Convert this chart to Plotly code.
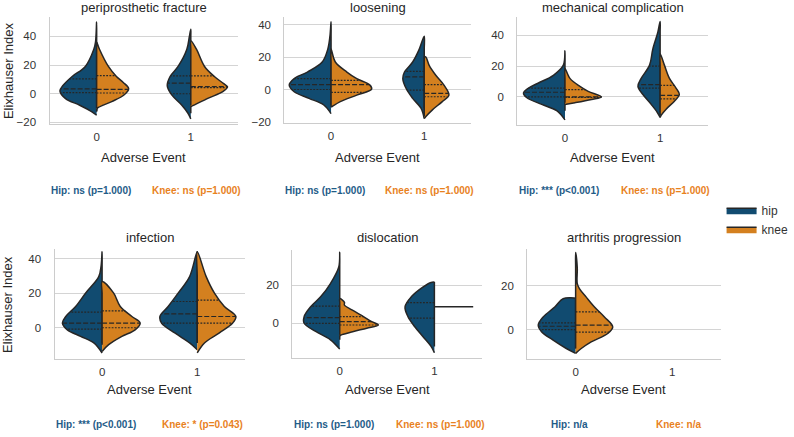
import numpy as np
import plotly.graph_objects as go

W, H = 794, 437
HIP_FILL = "#114b70"
KNEE_FILL = "#d4801f"
HIP_TXT = "#1f5c88"
KNEE_TXT = "#e8821e"
EDGE = "#262626"
GRID = "#d4d4d4"
FONT = "Liberation Sans, Arial, sans-serif"

panel_titles = ["periprosthetic fracture", "loosening", "mechanical complication",
                "infection", "dislocation", "arthritis progression"]
categories = [0, 1]
y_ranges = [[-20.8, 53.6], [-20.5, 45], [-18, 52], [-18, 45.5], [-18.2, 38.5], [-13.3, 36.5]]
y_ticks = [[-20, 0, 20, 40], [-20, 0, 20, 40], [0, 20, 40], [0, 20, 40], [0, 20], [0, 20]]
hip_labels = ["Hip: ns (p=1.000)", "Hip: ns (p=1.000)", "Hip: *** (p<0.001)",
              "Hip: *** (p<0.001)", "Hip: ns (p=1.000)", "Hip: n/a"]
knee_labels = ["Knee: ns (p=1.000)", "Knee: ns (p=1.000)", "Knee: ns (p=1.000)",
               "Knee: * (p=0.043)", "Knee: ns (p=1.000)", "Knee: n/a"]

# ---- violin density profiles (value, half-width) ----
# periprosthetic fracture
frac_hip0_y = [-15, -12.6, -8, -3.4, 2, 5.5, 12, 19, 31, 36, 50]
frac_hip0_w = [0, 0.05, 0.18, 0.33, 0.39, 0.36, 0.26, 0.12, 0.03, 0.012, 0]
frac_knee0_y = [-12, -10, -5.5, -0.9, 3.5, 8, 12, 19, 31, 36]
frac_knee0_w = [0, 0.01, 0.16, 0.29, 0.34, 0.28, 0.21, 0.125, 0.03, 0]
frac_hip1_y = [-17.5, -13.6, -8, -1, 5.5, 12, 19, 31, 40, 45]
frac_hip1_w = [0, 0.03, 0.095, 0.2, 0.25, 0.22, 0.135, 0.042, 0.015, 0]
frac_knee1_y = [-9, -7.8, -3.2, 1.4, 4.8, 7, 12, 19, 31, 37]
frac_knee1_w = [0, 0.04, 0.18, 0.34, 0.39, 0.35, 0.25, 0.146, 0.06, 0]
frac_q = {"hip0": [0.8, 3.4, 10.3], "knee0": [0.5, 3.0, 12.6],
          "hip1": [0.0, 7.4, 12.4], "knee1": [4.2, 5.0, 12.4]}

# loosening
loos_hip0_y = [-15, -9.6, -5.5, -1.4, 2.7, 6.7, 10.8, 17, 25, 33, 42]
loos_hip0_w = [0, 0.078, 0.237, 0.396, 0.449, 0.396, 0.254, 0.095, 0.035, 0.012, 0]
loos_knee0_y = [-11, -10.6, -7.5, -3.5, 0.2, 2.7, 6.7, 10.8, 17, 25]
loos_knee0_w = [0, 0.011, 0.099, 0.276, 0.435, 0.417, 0.276, 0.17, 0.046, 0]
loos_hip1_y = [-18, -11.6, -5.5, 0.6, 6.7, 10.8, 17, 25, 33]
loos_hip1_w = [0, 0.035, 0.124, 0.194, 0.23, 0.212, 0.124, 0.053, 0]
loos_knee1_y = [-18, -16.7, -12.6, -7.5, -3.5, 2.7, 8.8, 14.9, 20, 20.3]
loos_knee1_w = [0, 0.018, 0.088, 0.194, 0.265, 0.212, 0.124, 0.053, 0.018, 0]
loos_q = {"hip0": [0.0, 3.0, 6.7], "knee0": [-1.8, 3.0, 5.7],
          "hip1": [-0.4, 7.8, 11.2], "knee1": [-4.5, -2.4, 3.0]}

# mechanical complication
mech_hip0_y = [-15, -9, -4.9, -0.6, 2.5, 5.7, 9, 14, 20.6, 30]
mech_hip0_w = [0, 0.087, 0.244, 0.4, 0.436, 0.383, 0.279, 0.122, 0.017, 0]
mech_knee0_y = [-4.9, -3.8, -1.7, 0, 3.6, 6.8, 12, 18.5]
mech_knee0_w = [0, 0.105, 0.279, 0.383, 0.244, 0.157, 0.052, 0]
mech_hip1_y = [-13.4, -10, -4.9, 1.5, 6.8, 12, 20.6, 31, 42, 49]
mech_hip1_w = [0, 0.031, 0.094, 0.181, 0.233, 0.199, 0.111, 0.077, 0.024, 0]
mech_knee1_y = [-13.4, -12, -8, -2.8, 1.5, 5.7, 12, 20.6, 28]
mech_knee1_w = [0, 0.01, 0.063, 0.15, 0.202, 0.167, 0.098, 0.045, 0]
mech_q = {"hip0": [0.0, 3.0, 5.7], "knee0": [-0.4, 0.0, 4.7],
          "hip1": [5.7, 7.9, 20.0], "knee1": [-1.3, 0.9, 7.4]}

# infection
inf_hip0_y = [-14.6, -8.8, -5, -1.2, 2.7, 6.5, 12.3, 20, 29.6, 36, 44]
inf_hip0_w = [0, 0.087, 0.226, 0.365, 0.417, 0.382, 0.278, 0.174, 0.035, 0.01, 0]
inf_knee0_y = [-13.7, -9.8, -5, -1.2, 2.7, 6.5, 12.3, 20, 26.7]
inf_knee0_w = [0, 0.069, 0.208, 0.347, 0.4, 0.313, 0.191, 0.122, 0]
inf_hip1_y = [-12.7, -8.8, -3, 2.7, 6.5, 12.3, 20, 29.6, 44]
inf_hip1_w = [0, 0.08, 0.236, 0.375, 0.392, 0.306, 0.201, 0.08, 0]
inf_knee1_y = [-14.6, -8.8, -3, 2.7, 6.5, 12.3, 20, 29.6, 44]
inf_knee1_w = [0, 0.076, 0.233, 0.372, 0.406, 0.285, 0.181, 0.094, 0]
inf_q = {"hip0": [-0.8, 2.7, 9.0], "knee0": [0.0, 2.7, 9.8],
         "hip1": [2.7, 8.0, 15.2], "knee1": [2.7, 6.5, 16.0]}

# dislocation
disl_hip0_y = [-13.6, -8.7, -4.3, 0, 3.5, 8.7, 13.9, 20.9, 29.6, 37.4]
disl_hip0_w = [0, 0.098, 0.254, 0.376, 0.376, 0.307, 0.202, 0.098, 0.01, 0]
disl_knee0_y = [-6.6, -6, -4.3, -2.6, -0.9, 0.9, 3.5, 7, 9.6, 11, 13]
disl_knee0_w = [0, 0.024, 0.146, 0.286, 0.408, 0.338, 0.251, 0.129, 0.049, 0.05, 0]
disl_hip1_y = [-15.5, -12.2, -7, -1.7, 3.5, 8.7, 13.9, 19, 21.5, 21.6]
disl_hip1_w = [0, 0.035, 0.122, 0.209, 0.279, 0.31, 0.244, 0.122, 0.035, 0]
disl_knee1_value = 8.7
disl_knee1_width = 0.41
disl_q = {"hip0": [0.0, 3.0, 9.0], "knee0": [-0.9, 0.9, 3.5],
          "hip1": [2.7, None, 10.9]}

# arthritis progression
arth_hip0_y = [-10.8, -8.6, -4.8, -1, 2, 5.7, 10.2, 14, 14.1]
arth_hip0_w = [0, 0.096, 0.233, 0.353, 0.387, 0.336, 0.216, 0.13, 0]
arth_knee0_y = [-10.8, -8.6, -5.6, -1.8, 1.2, 5.7, 10.2, 14.7, 18.5, 20.8, 28, 35]
arth_knee0_w = [0, 0.058, 0.161, 0.332, 0.384, 0.298, 0.195, 0.11, 0.041, 0.017, 0.017, 0]
arth_q = {"hip0": [0.0, 1.5, 3.0], "knee0": [-1.2, 2.0, 8.0]}

# (panel, category, side, y, w, quartiles)
halves = [
    (0, 0, "hip", frac_hip0_y, frac_hip0_w, frac_q["hip0"]),
    (0, 0, "knee", frac_knee0_y, frac_knee0_w, frac_q["knee0"]),
    (0, 1, "hip", frac_hip1_y, frac_hip1_w, frac_q["hip1"]),
    (0, 1, "knee", frac_knee1_y, frac_knee1_w, frac_q["knee1"]),
    (1, 0, "hip", loos_hip0_y, loos_hip0_w, loos_q["hip0"]),
    (1, 0, "knee", loos_knee0_y, loos_knee0_w, loos_q["knee0"]),
    (1, 1, "hip", loos_hip1_y, loos_hip1_w, loos_q["hip1"]),
    (1, 1, "knee", loos_knee1_y, loos_knee1_w, loos_q["knee1"]),
    (2, 0, "hip", mech_hip0_y, mech_hip0_w, mech_q["hip0"]),
    (2, 0, "knee", mech_knee0_y, mech_knee0_w, mech_q["knee0"]),
    (2, 1, "hip", mech_hip1_y, mech_hip1_w, mech_q["hip1"]),
    (2, 1, "knee", mech_knee1_y, mech_knee1_w, mech_q["knee1"]),
    (3, 0, "hip", inf_hip0_y, inf_hip0_w, inf_q["hip0"]),
    (3, 0, "knee", inf_knee0_y, inf_knee0_w, inf_q["knee0"]),
    (3, 1, "hip", inf_hip1_y, inf_hip1_w, inf_q["hip1"]),
    (3, 1, "knee", inf_knee1_y, inf_knee1_w, inf_q["knee1"]),
    (4, 0, "hip", disl_hip0_y, disl_hip0_w, disl_q["hip0"]),
    (4, 0, "knee", disl_knee0_y, disl_knee0_w, disl_q["knee0"]),
    (4, 1, "hip", disl_hip1_y, disl_hip1_w, disl_q["hip1"]),
    (5, 0, "hip", arth_hip0_y, arth_hip0_w, arth_q["hip0"]),
    (5, 0, "knee", arth_knee0_y, arth_knee0_w, arth_q["knee0"]),
]

# ---- layout geometry (pixels) ----
boxes = [(50, 240, 17, 125), (287, 475, 17, 124), (522, 714, 17, 126),
         (55, 247, 252, 363), (295, 486, 253, 362), (532, 727, 252, 363)]

def px(x):
    return x / W

def py(y):
    return 1 - y / H

fig = go.Figure()
shown = set()
for (p, c, side, ys, ws, qs) in halves:
    s = -1 if side == "hip" else 1
    xs = [categories[c] + s * w for w in ws]
    back_y = ys[-2:0:-1]
    X = xs + [categories[c]] * len(back_y)
    Y = list(ys) + list(back_y)
    ax = "" if p == 0 else str(p + 1)
    fig.add_trace(go.Scatter(
        x=X, y=Y, mode="lines", fill="toself",
        fillcolor=HIP_FILL if side == "hip" else KNEE_FILL,
        line=dict(color=EDGE, width=1.5, shape="spline", smoothing=1.0),
        name=side, legendgroup=side, showlegend=side not in shown,
        xaxis="x" + ax, yaxis="y" + ax, hoverinfo="skip"))
    shown.add(side)
    for k, q in enumerate(qs):
        if q is None:
            continue
        wq = float(np.interp(q, ys, ws))
        dash = "5px,2px" if k == 1 else "1.8px,1.4px"
        fig.add_trace(go.Scatter(
            x=[categories[c], categories[c] + s * wq], y=[q, q], mode="lines",
            line=dict(color=EDGE, width=1.2, dash=dash), showlegend=False,
            xaxis="x" + ax, yaxis="y" + ax, hoverinfo="skip"))

# single knee observation in dislocation, event = 1
fig.add_trace(go.Scatter(
    x=[categories[1], categories[1] + disl_knee1_width],
    y=[disl_knee1_value, disl_knee1_value], mode="lines",
    line=dict(color=EDGE, width=1.4), showlegend=False,
    xaxis="x5", yaxis="y5", hoverinfo="skip"))

layout = dict(
    width=W, height=H, margin=dict(l=0, r=0, t=0, b=0),
    paper_bgcolor="white", plot_bgcolor="white",
    font=dict(family=FONT, size=11, color="#333333"),
    showlegend=True,
    legend=dict(x=px(728), y=py(198), xanchor="left", yanchor="top",
                font=dict(size=12, color="#333333"), tracegroupgap=0,
                itemwidth=30, bgcolor="rgba(0,0,0,0)"),
)
annotations = []
for i, (x0, x1, y0, y1) in enumerate(boxes):
    ax = "" if i == 0 else str(i + 1)
    layout["xaxis" + ax] = dict(
        domain=[px(x0), px(x1)], anchor="y" + ax, range=[-0.5, 1.5],
        tickvals=categories, ticktext=[str(v) for v in categories],
        showgrid=False, zeroline=False, showline=True, linecolor="#cccccc",
        linewidth=1.3, ticks="", ticklabelstandoff=2,
        tickfont=dict(size=11.5, color="#333333"))
    layout["yaxis" + ax] = dict(
        domain=[py(y1), py(y0)], anchor="x" + ax, range=y_ranges[i],
        tickvals=y_ticks[i], showgrid=True, gridcolor=GRID, gridwidth=1,
        zeroline=False, showline=True, linecolor="#cccccc", linewidth=1.3,
        ticks="", ticklabelstandoff=10,
        tickfont=dict(size=11.5, color="#333333"))
    cx = (x0 + x1) / 2
    row2 = i >= 3
    annotations.append(dict(text=panel_titles[i], x=px(cx), y=py(240 if row2 else 8),
                            xref="paper", yref="paper", showarrow=False,
                            xanchor="center", yanchor="middle",
                            font=dict(size=13, color="#262626")))
    annotations.append(dict(text="Adverse Event", x=px(cx), y=py(394 if row2 else 159),
                            xref="paper", yref="paper", showarrow=False,
                            xanchor="center", yanchor="middle",
                            font=dict(size=13, color="#262626")))
    ya = 429 if row2 else 193
    w = x1 - x0
    annotations.append(dict(text="<b>" + hip_labels[i] + "</b>", x=px(x0 + 0.22 * w), y=py(ya),
                            xref="paper", yref="paper", showarrow=False,
                            xanchor="center", yanchor="middle",
                            font=dict(size=10, color=HIP_TXT)))
    annotations.append(dict(text="<b>" + knee_labels[i] + "</b>", x=px(x0 + 0.78 * w), y=py(ya),
                            xref="paper", yref="paper", showarrow=False,
                            xanchor="center", yanchor="middle",
                            font=dict(size=10, color=KNEE_TXT)))
    if i % 3 == 0:
        annotations.append(dict(text="Elixhauser Index", x=px(8), y=py((y0 + y1) / 2),
                                xref="paper", yref="paper", showarrow=False,
                                textangle=-90, xanchor="center", yanchor="middle",
                                font=dict(size=13, color="#262626")))
layout["annotations"] = annotations
fig.update_layout(**layout)
fig.write_html("out.html")
